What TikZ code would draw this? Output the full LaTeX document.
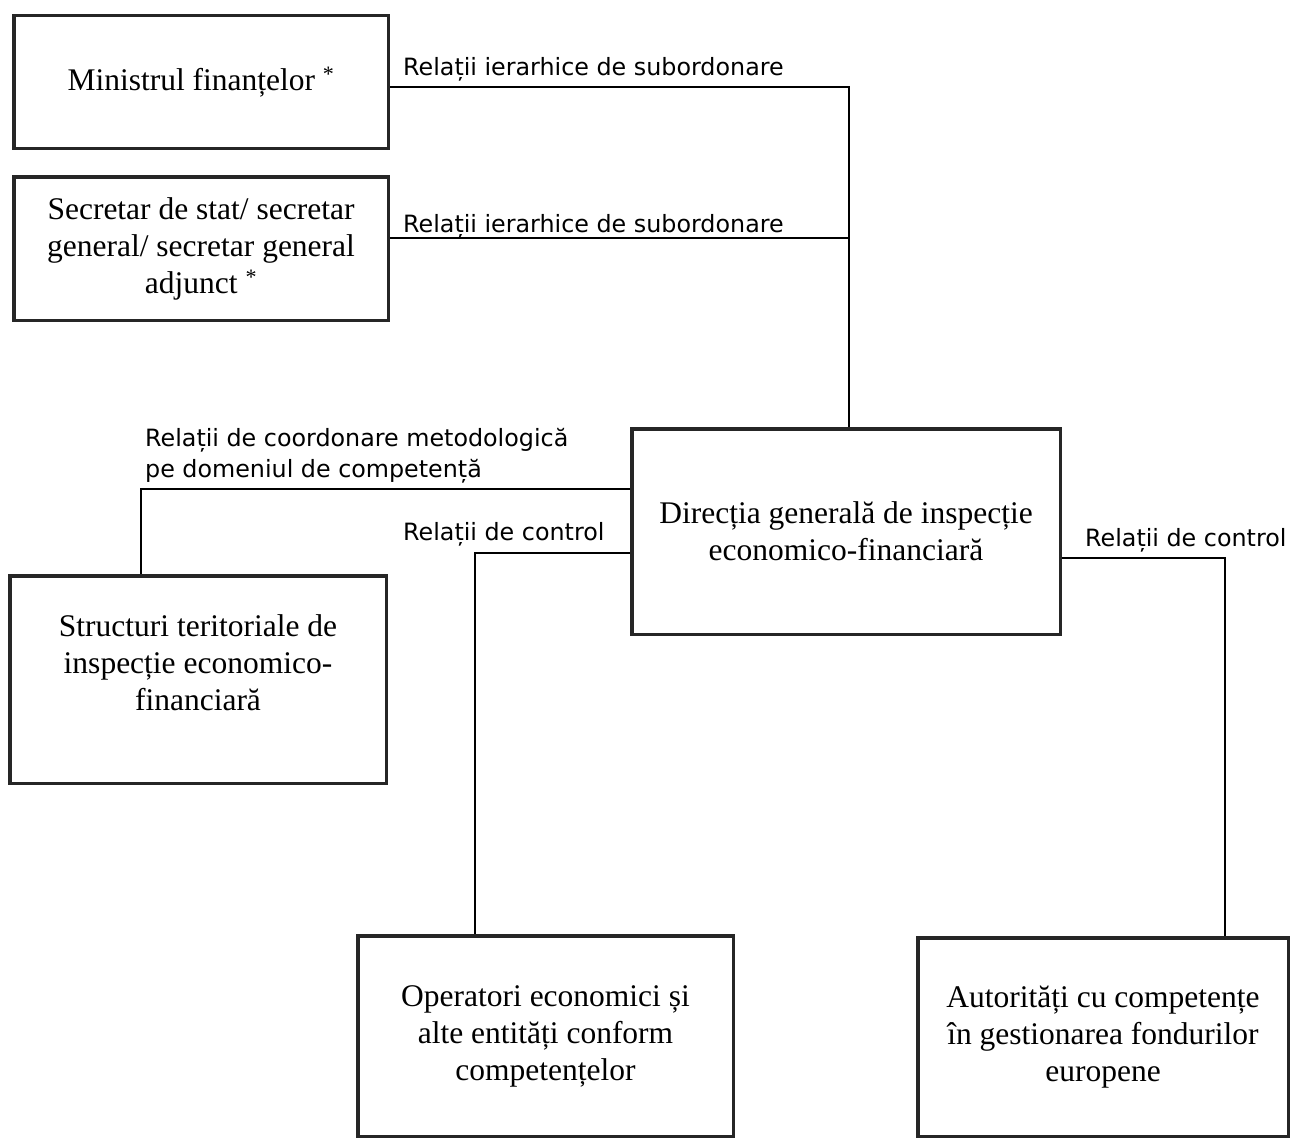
\documentclass[tikz,border=0pt]{standalone}
\usepackage{fontspec}
\setmainfont{Liberation Serif}
\newfontfamily\relfont{DejaVu Sans}
\begin{document}
\begin{tikzpicture}[x=1pt,y=-1pt,
  box/.style={draw=black!85,line width=3.5pt,align=center,inner sep=0pt,font=\fontsize{31.5}{37}\selectfont},
  rel/.style={inner sep=0pt,align=left,font=\relfont\fontsize{23.8}{31}\selectfont},
  link/.style={line width=1.8pt}]
\useasboundingbox (0,0) rectangle (1291,1140);
\node[box,minimum width=374.5pt,minimum height=132.5pt] (min) at (201,82) {Ministrul finanțelor \textsuperscript{*}};
\node[box,minimum width=374.5pt,minimum height=143.5pt] (sec) at (201,248.5) {Secretar de stat/ secretar\\general/ secretar general\\adjunct \textsuperscript{*}};
\node[box,minimum width=428.5pt,minimum height=205.5pt] (dir) at (846,531.5) {Direcția generală de inspecție\\economico-financiară};
\node[box,minimum width=376.5pt,minimum height=207.5pt] (str) at (198,679.5) {};
\node[box,draw=none] (strtxt) at ([yshift=17pt]str.center) {Structuri teritoriale de\\inspecție economico-\\financiară};
\node[box,minimum width=375.5pt,minimum height=200.5pt] (op) at (545.5,1036) {Operatori economici și\\alte entități conform\\competențelor};
\node[box,minimum width=370.5pt,minimum height=198.5pt] (aut) at (1103,1037) {Autorități cu competențe\\în gestionarea fondurilor\\europene};
\coordinate (v) at ([xshift=3pt]dir.north);
\draw[link] ([yshift=-5pt]min.east) coordinate (m1) -| (v);
\draw[link] ([yshift=10.5pt]sec.east) coordinate (s1) -- (s1 -| v);
\draw[link] ([yshift=42.5pt]dir.west) -| ([xshift=-57pt]str.north);
\draw[link] ([yshift=-21.5pt]dir.west) -| ([xshift=-70.5pt]op.north);
\draw[link] ([yshift=-26.5pt]dir.east) -| ([xshift=122pt]aut.north);
\node[rel,anchor=base west] (lmin) at (403,75) {Relații ierarhice de subordonare};
\node[rel,anchor=base west] (lsec) at (403,232) {Relații ierarhice de subordonare};
\node[rel,anchor=base west] (lstr) at (145,477) {Relații de coordonare metodologică\\pe domeniul de competență};
\node[rel,anchor=base west] (lop) at (403,540) {Relații de control};
\node[rel,anchor=base west] (laut) at (1085,546) {Relații de control};
\end{tikzpicture}
\end{document}
